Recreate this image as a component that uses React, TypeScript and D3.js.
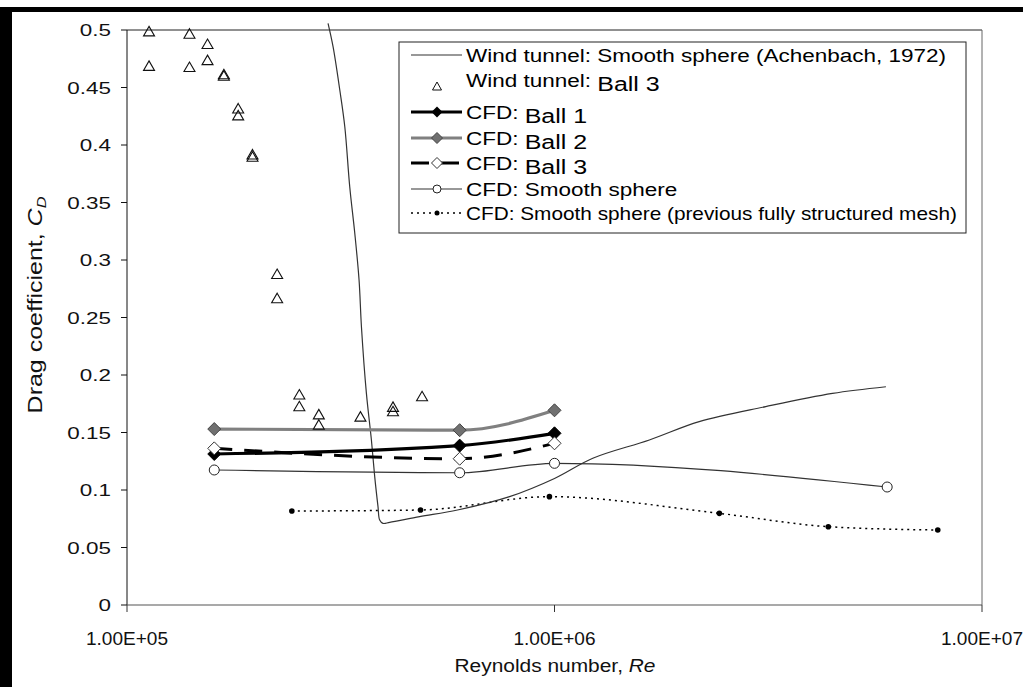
import React from "react";
import * as d3 from "d3";

// Wind tunnel: smooth sphere (Achenbach, 1972)
const RE_ACH = [2.953e5, 3.034e5, 3.146e5, 3.232e5, 3.319e5, 3.41e5, 3.49e5, 3.535e5, 3.631e5, 3.73e5, 3.797e5, 3.865e5, 3.9e5, 3.97e5, 4.116e5, 4.837e5, 5.93e5, 7.85e5, 1.0e6, 1.229e6, 1.667e6, 2.18e6, 3.12e6, 4.47e6, 5.96e6];
const CD_ACH = [0.5058, 0.4855, 0.4478, 0.4159, 0.3637, 0.3235, 0.2826, 0.242, 0.184, 0.1435, 0.1116, 0.0855, 0.0739, 0.071, 0.0719, 0.0768, 0.0826, 0.0942, 0.11, 0.1276, 0.1435, 0.1594, 0.1725, 0.184, 0.1898];

// Wind tunnel: Ball 3 (individual runs)
const RE_WT = [1.126e5, 1.126e5, 1.4e5, 1.4e5, 1.543e5, 1.543e5, 1.685e5, 1.685e5, 1.82e5, 1.82e5, 1.966e5, 1.966e5, 2.245e5, 2.245e5, 2.53e5, 2.53e5, 2.81e5, 2.81e5, 3.516e5, 4.19e5, 4.19e5, 4.9e5];
const CD_WT = [0.499, 0.469, 0.497, 0.468, 0.488, 0.474, 0.4617, 0.4605, 0.432, 0.426, 0.392, 0.39, 0.288, 0.267, 0.1832, 0.173, 0.166, 0.157, 0.164, 0.1725, 0.1687, 0.1817];

// CFD results
const RE_CFD = [1.6e5, 6e5, 1e6];
const CD_BALL1 = [0.1313, 0.1386, 0.1493];
const CD_BALL2 = [0.153, 0.152, 0.1693];
const CD_BALL3 = [0.1362, 0.1272, 0.1406];
const RE_SMOOTH = [1.6e5, 6e5, 1e6, 6e6];
const CD_SMOOTH = [0.1174, 0.115, 0.1232, 0.1026];
const RE_PREV = [2.43e5, 4.86e5, 9.73e5, 2.43e6, 4.37e6, 7.88e6];
const CD_PREV = [0.0817, 0.0826, 0.0942, 0.0797, 0.0681, 0.0652];

// Axis ticks
const X_TICKS = [1e5, 1e6, 1e7];
const X_TICK_LABELS = ["1.00E+05", "1.00E+06", "1.00E+07"];
const Y_TICKS = [0, 0.05, 0.1, 0.15, 0.2, 0.25, 0.3, 0.35, 0.4, 0.45, 0.5];
const Y_TICK_LABELS = ["0", "0.05", "0.1", "0.15", "0.2", "0.25", "0.3", "0.35", "0.4", "0.45", "0.5"];

const W = 1023;
const H = 687;
const PL = 127, PR = 982, PT = 30, PB = 605;
const FONT = "'Liberation Sans', Arial, sans-serif";

const x = d3.scaleLog().domain([1e5, 1e7]).range([PL, PR]);
const y = d3.scaleLinear().domain([0, 0.5]).range([PB, PT]);

const zip = (xs: number[], ys: number[]) => xs.map((v, i) => [v, ys[i]] as [number, number]);

const curveLine = (curve: d3.CurveFactory) =>
  d3
    .line<[number, number]>()
    .x((d) => x(d[0]))
    .y((d) => y(d[1]))
    .curve(curve);

const achLine = curveLine(d3.curveCatmullRom.alpha(0.5));
const cfdLine = curveLine(d3.curveMonotoneX);

const diamond = (cx: number, cy: number, r: number) =>
  `M${cx},${cy - r}L${cx + r},${cy}L${cx},${cy + r}L${cx - r},${cy}Z`;
const triangle = (cx: number, cy: number, w: number, h: number) =>
  `M${cx},${cy - h / 2}L${cx + w / 2},${cy + h / 2}L${cx - w / 2},${cy + h / 2}Z`;

const LEG_X = 399, LEG_Y = 42, LEG_W = 567, LEG_H = 191;
const LEG_L0 = 411, LEG_L1 = 462, LEG_M = 437, LEG_T = 466;
const LEG_ROWS = [55, 80, 112, 138, 163, 189, 213];
const LEG_SX = 1.25;

export default function App() {
  const ach = zip(RE_ACH, CD_ACH);
  const b1 = zip(RE_CFD, CD_BALL1);
  const b2 = zip(RE_CFD, CD_BALL2);
  const b3 = zip(RE_CFD, CD_BALL3);
  const sm = zip(RE_SMOOTH, CD_SMOOTH);
  const pv = zip(RE_PREV, CD_PREV);

  const legText = (row: number, a: string, b?: string, sx: number = LEG_SX) => (
    <text
      transform={`translate(${LEG_T},${LEG_ROWS[row] + 6.5}) scale(${sx},1)`}
      fontSize={18}
      fontFamily={FONT}
      fill="#000"
    >
      {a}
      {b ? (
        <tspan fontSize={20} dy={4.5}>
          {b}
        </tspan>
      ) : null}
    </text>
  );

  return (
    <svg
      width={W}
      height={H}
      style={{ position: "absolute", left: 0, top: 0, background: "#fff" }}
    >
      <rect x={0} y={0} width={W} height={H} fill="#fff" />
      {/* frame bands */}
      <rect x={0} y={7} width={W} height={5} fill="#000" />
      <rect x={0} y={7} width={12} height={H - 7} fill="#000" />

      {/* plot area border */}
      <line x1={PL} x2={PR} y1={PT} y2={PT} stroke="#222" strokeWidth={1} />
      <line x1={PR} x2={PR} y1={PT} y2={PB} stroke="#666" strokeWidth={1} />

      {/* y axis */}
      <line x1={PL} x2={PL} y1={PT} y2={PB} stroke="#111" strokeWidth={1} />
      {Y_TICKS.map((t, i) => (
        <g key={"y" + i}>
          <line x1={PL - 6} x2={PL} y1={y(t)} y2={y(t)} stroke="#111" />
          <text
            transform={`translate(${PL - 16},${y(t) + 6}) scale(1.32,1)`}
            textAnchor="end"
            fontSize={17}
            fontFamily={FONT}
            fill="#111"
          >
            {Y_TICK_LABELS[i]}
          </text>
        </g>
      ))}

      {/* x axis */}
      <line x1={PL} x2={PR} y1={PB} y2={PB} stroke="#555" strokeWidth={1.2} />
      {X_TICKS.map((t, i) => (
        <g key={"x" + i}>
          <line x1={x(t)} x2={x(t)} y1={PB} y2={PB + 7} stroke="#333" />
          <text
            transform={`translate(${x(t)},${PB + 40}) scale(1.06,1)`}
            textAnchor="middle"
            fontSize={18}
            fontFamily={FONT}
            fill="#111"
          >
            {X_TICK_LABELS[i]}
          </text>
        </g>
      ))}

      {/* axis titles */}
      <text
        transform="translate(555,672) scale(1.1,1)"
        textAnchor="middle"
        fontSize={19}
        fontFamily={FONT}
        fill="#111"
      >
        Reynolds number, <tspan fontStyle="italic">Re</tspan>
      </text>
      <text
        transform="translate(42,305) rotate(-90) scale(1.25,1)"
        textAnchor="middle"
        fontSize={20}
        fontFamily={FONT}
        fill="#111"
      >
        Drag coefficient, <tspan fontStyle="italic">C</tspan>
        <tspan fontStyle="italic" fontSize={13} dy={4}>
          D
        </tspan>
      </text>

      {/* CFD smooth sphere, previous structured mesh */}
      <path d={cfdLine(pv) || ""} fill="none" stroke="#000" strokeWidth={1.5} strokeDasharray="2,4" />
      {pv.map((d, i) => (
        <circle key={"pv" + i} cx={x(d[0])} cy={y(d[1])} r={2.8} fill="#000" />
      ))}

      {/* CFD smooth sphere */}
      <path d={cfdLine(sm) || ""} fill="none" stroke="#333" strokeWidth={1.2} />

      {/* Achenbach curve */}
      <path d={achLine(ach) || ""} fill="none" stroke="#333" strokeWidth={1.2} />

      {/* Ball 2 */}
      <path d={cfdLine(b2) || ""} fill="none" stroke="#808080" strokeWidth={3.2} />
      {/* Ball 1 */}
      <path d={cfdLine(b1) || ""} fill="none" stroke="#000" strokeWidth={3.2} />
      {/* Ball 3 */}
      <path d={cfdLine(b3) || ""} fill="none" stroke="#000" strokeWidth={3} strokeDasharray="18,12" />

      {sm.map((d, i) => (
        <circle key={"sm" + i} cx={x(d[0])} cy={y(d[1])} r={5} fill="#fff" stroke="#222" strokeWidth={1} />
      ))}
      {b2.map((d, i) => (
        <path key={"b2" + i} d={diamond(x(d[0]), y(d[1]), 6.5)} fill="#707070" stroke="#444" strokeWidth={1} />
      ))}
      {b1.map((d, i) => (
        <path key={"b1" + i} d={diamond(x(d[0]), y(d[1]), 6.5)} fill="#000" stroke="#000" strokeWidth={1} />
      ))}
      {b3.map((d, i) => (
        <path key={"b3" + i} d={diamond(x(d[0]), y(d[1]), 6.5)} fill="#fff" stroke="#333" strokeWidth={1} />
      ))}

      {/* Wind tunnel Ball 3 */}
      {RE_WT.map((r, i) => (
        <path
          key={"wt" + i}
          d={triangle(x(r), y(CD_WT[i]), 11, 9.5)}
          fill="none"
          stroke="#111"
          strokeWidth={1.1}
        />
      ))}

      {/* legend */}
      <rect x={LEG_X} y={LEG_Y} width={LEG_W} height={LEG_H} fill="#fff" stroke="#222" strokeWidth={1} />
      <line x1={LEG_L0} x2={LEG_L1} y1={LEG_ROWS[0]} y2={LEG_ROWS[0]} stroke="#333" strokeWidth={1.2} />
      {legText(0, "Wind tunnel: Smooth sphere (Achenbach, 1972)")}

      <path d={triangle(LEG_M, LEG_ROWS[1] + 6, 9, 8)} fill="none" stroke="#111" strokeWidth={1} />
      {legText(1, "Wind tunnel: ", "Ball 3")}

      <line x1={LEG_L0} x2={LEG_L1} y1={LEG_ROWS[2]} y2={LEG_ROWS[2]} stroke="#000" strokeWidth={3.2} />
      <path d={diamond(LEG_M, LEG_ROWS[2], 5.5)} fill="#000" />
      {legText(2, "CFD: ", "Ball 1")}

      <line x1={LEG_L0} x2={LEG_L1} y1={LEG_ROWS[3]} y2={LEG_ROWS[3]} stroke="#808080" strokeWidth={3.2} />
      <path d={diamond(LEG_M, LEG_ROWS[3], 5.5)} fill="#707070" stroke="#444" />
      {legText(3, "CFD: ", "Ball 2")}

      <line x1={LEG_L0} x2={LEG_L1} y1={LEG_ROWS[4]} y2={LEG_ROWS[4]} stroke="#000" strokeWidth={3} strokeDasharray="18,12" />
      <path d={diamond(LEG_M, LEG_ROWS[4], 5.5)} fill="#fff" stroke="#333" />
      {legText(4, "CFD: ", "Ball 3")}

      <line x1={LEG_L0} x2={LEG_L1} y1={LEG_ROWS[5]} y2={LEG_ROWS[5]} stroke="#333" strokeWidth={1.2} />
      <circle cx={LEG_M} cy={LEG_ROWS[5]} r={4} fill="#fff" stroke="#222" />
      {legText(5, "CFD: Smooth sphere")}

      <line x1={LEG_L0} x2={LEG_L1} y1={LEG_ROWS[6]} y2={LEG_ROWS[6]} stroke="#000" strokeWidth={1.5} strokeDasharray="2,4" />
      <circle cx={LEG_M} cy={LEG_ROWS[6]} r={2.5} fill="#000" />
      {legText(6, "CFD: Smooth sphere (previous fully structured mesh)", undefined, 1.155)}
    </svg>
  );
}
